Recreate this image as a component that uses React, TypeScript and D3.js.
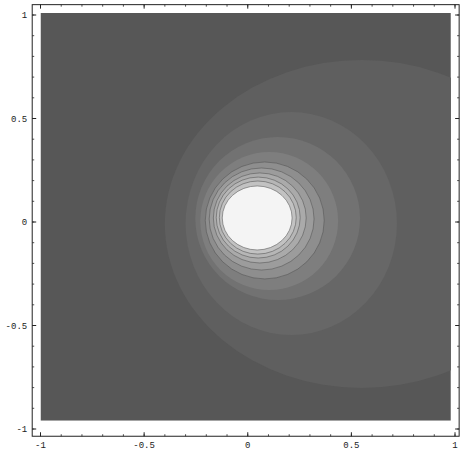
import React from "react";
import * as d3 from "d3";

// Contour levels (outer -> inner), edges in data coordinates
const levelLeft = [-0.40, -0.30, -0.253, -0.229, -0.205, -0.186, -0.166, -0.152, -0.137, -0.123];
const levelRight = [1.5, 0.72, 0.542, 0.436, 0.369, 0.32, 0.282, 0.253, 0.234, 0.214];
const levelTop = [0.783, 0.531, 0.411, 0.338, 0.29, 0.261, 0.237, 0.217, 0.198, 0.174];
const levelBottom = [-0.802, -0.546, -0.377, -0.329, -0.275, -0.232, -0.198, -0.174, -0.155, -0.135];
const levelGray = [0x5f, 0x67, 0x72, 0x7e, 0x8e, 0x9c, 0xaa, 0xb6, 0xc2, 0xf4];
const backgroundGray = 0x57;

const majorTicks = [-1, -0.5, 0, 0.5, 1];
const tickLabels = ["-1", "-0.5", "0", "0.5", "1"];
const minorTicks = d3.range(-10, 11).map((i) => i / 10);

const plotX = [-1, 0.98];
const plotY = [-0.96, 1.01];
const frameX = [-1.04, 1.02];
const frameY = [-1.035, 1.05];

const W = 461;
const H = 450;

export default function App() {
  const x = d3.scaleLinear().domain([-1, 1]).range([40.5, 455]);
  const y = d3.scaleLinear().domain([-1, 1]).range([429, 15]);
  const gray = (v: number) => d3.rgb(v, v, v).toString();

  const fx0 = x(frameX[0]);
  const fx1 = x(frameX[1]);
  const fy0 = y(frameY[1]);
  const fy1 = y(frameY[0]);

  return (
    <svg
      width={W}
      height={H}
      style={{ position: "absolute", left: 0, top: 0, background: "#fff" }}
    >
      <defs>
        <clipPath id="plotclip">
          <rect
            x={x(plotX[0])}
            y={y(plotY[1])}
            width={x(plotX[1]) - x(plotX[0])}
            height={y(plotY[0]) - y(plotY[1])}
          />
        </clipPath>
      </defs>
      <g clipPath="url(#plotclip)">
        <rect
          x={x(plotX[0])}
          y={y(plotY[1])}
          width={x(plotX[1]) - x(plotX[0])}
          height={y(plotY[0]) - y(plotY[1])}
          fill={gray(backgroundGray)}
        />
        {levelGray.map((g, i) => {
          const cx = (x(levelLeft[i]) + x(levelRight[i])) / 2;
          const cy = (y(levelTop[i]) + y(levelBottom[i])) / 2;
          const rx = (x(levelRight[i]) - x(levelLeft[i])) / 2;
          const ry = (y(levelBottom[i]) - y(levelTop[i])) / 2;
          return (
            <ellipse
              key={i}
              cx={cx}
              cy={cy}
              rx={rx}
              ry={ry}
              fill={gray(g)}
              stroke={i >= 4 ? "rgba(80,80,80,0.6)" : "none"}
              strokeWidth={0.9}
            />
          );
        })}
      </g>
      {/* frame */}
      <rect
        x={fx0}
        y={fy0}
        width={fx1 - fx0}
        height={fy1 - fy0}
        fill="none"
        stroke="#222"
        strokeWidth={1}
      />
      {/* minor ticks */}
      {minorTicks.map((t, i) => (
        <g key={"m" + i} stroke="#222" strokeWidth={0.8}>
          <line x1={x(t)} x2={x(t)} y1={fy1} y2={fy1 - 2} />
          <line x1={x(t)} x2={x(t)} y1={fy0} y2={fy0 + 2} />
          <line x1={fx0} x2={fx0 + 2} y1={y(t)} y2={y(t)} />
          <line x1={fx1} x2={fx1 - 2} y1={y(t)} y2={y(t)} />
        </g>
      ))}
      {/* major ticks */}
      {majorTicks.map((t, i) => (
        <g key={"M" + i} stroke="#222" strokeWidth={1}>
          <line x1={x(t)} x2={x(t)} y1={fy1} y2={fy1 - 4} />
          <line x1={x(t)} x2={x(t)} y1={fy0} y2={fy0 + 4} />
          <line x1={fx0} x2={fx0 + 4} y1={y(t)} y2={y(t)} />
          <line x1={fx1} x2={fx1 - 4} y1={y(t)} y2={y(t)} />
        </g>
      ))}
      {majorTicks.map((t, i) => (
        <text
          key={"lx" + i}
          x={x(t)}
          y={fy1 + 12}
          textAnchor="middle"
          fontFamily="Liberation Mono, DejaVu Sans Mono, monospace"
          fontSize={9}
          fill="#222"
        >
          {tickLabels[i]}
        </text>
      ))}
      {majorTicks.map((t, i) => (
        <text
          key={"ly" + i}
          x={fx0 - 5}
          y={y(t) + 3}
          textAnchor="end"
          fontFamily="Liberation Mono, DejaVu Sans Mono, monospace"
          fontSize={9}
          fill="#222"
        >
          {tickLabels[i]}
        </text>
      ))}
    </svg>
  );
}
